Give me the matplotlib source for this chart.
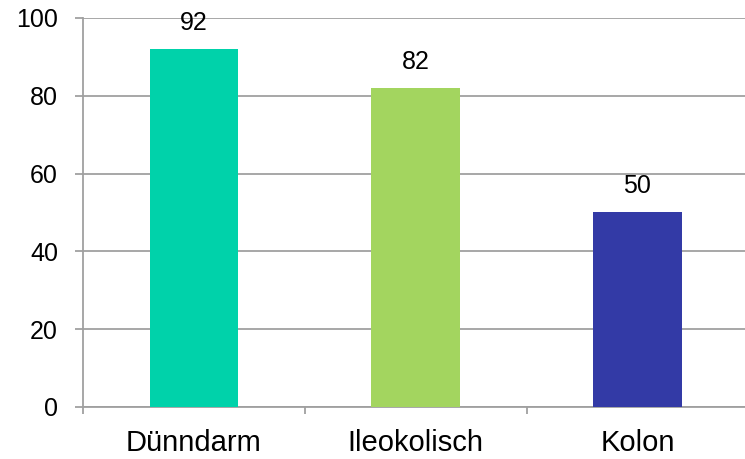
import numpy as np
import matplotlib.pyplot as plt

# daten
kategorien = ["Dünndarm", "Ileokolisch", "Kolon"]
werte = [92, 82, 50]
farben = ["#00D2AA", "#A3D55F", "#333AA6"]
y_ticks = [0, 20, 40, 60, 80, 100]

plt.rcParams['font.family'] = ['Liberation Sans', 'DejaVu Sans']

fig = plt.figure(figsize=(7.45, 4.59), dpi=100)
ax = fig.add_axes([0.1114, 0.1133, 0.893, 0.8475])

x = np.arange(len(kategorien))
ax.bar(x, werte, width=0.40, color=farben, zorder=3)

for xi, v in zip(x, werte):
    ax.annotate(str(v), (xi, v), xytext=(0, 19), textcoords="offset points",
                ha="center", va="center", fontsize=18, zorder=4)

ax.set_xlim(-0.5, len(kategorien) - 0.5)
ax.set_ylim(0, 100)
ax.set_yticks(y_ticks)
ax.yaxis.grid(True, color="#A0A0A0", linewidth=1.3, zorder=0)

ax.set_xticks(np.arange(len(kategorien) + 1) - 0.5, minor=False)
ax.set_xticklabels([])
ax.set_xticks(x, minor=True)
ax.set_xticklabels(kategorien, minor=True, fontsize=21)
ax.tick_params(axis="x", which="minor", length=0, pad=16)
ax.tick_params(axis="x", which="major", length=5, color="#A0A0A0", width=1.3)
ax.tick_params(axis="y", length=6, color="#A0A0A0", width=1.3, labelsize=18, pad=12)

for s in ["top", "right"]:
    ax.spines[s].set_visible(False)
for s in ["left", "bottom"]:
    ax.spines[s].set_color("#A0A0A0")
    ax.spines[s].set_linewidth(1.3)

fig.savefig("out.png", dpi=100)
